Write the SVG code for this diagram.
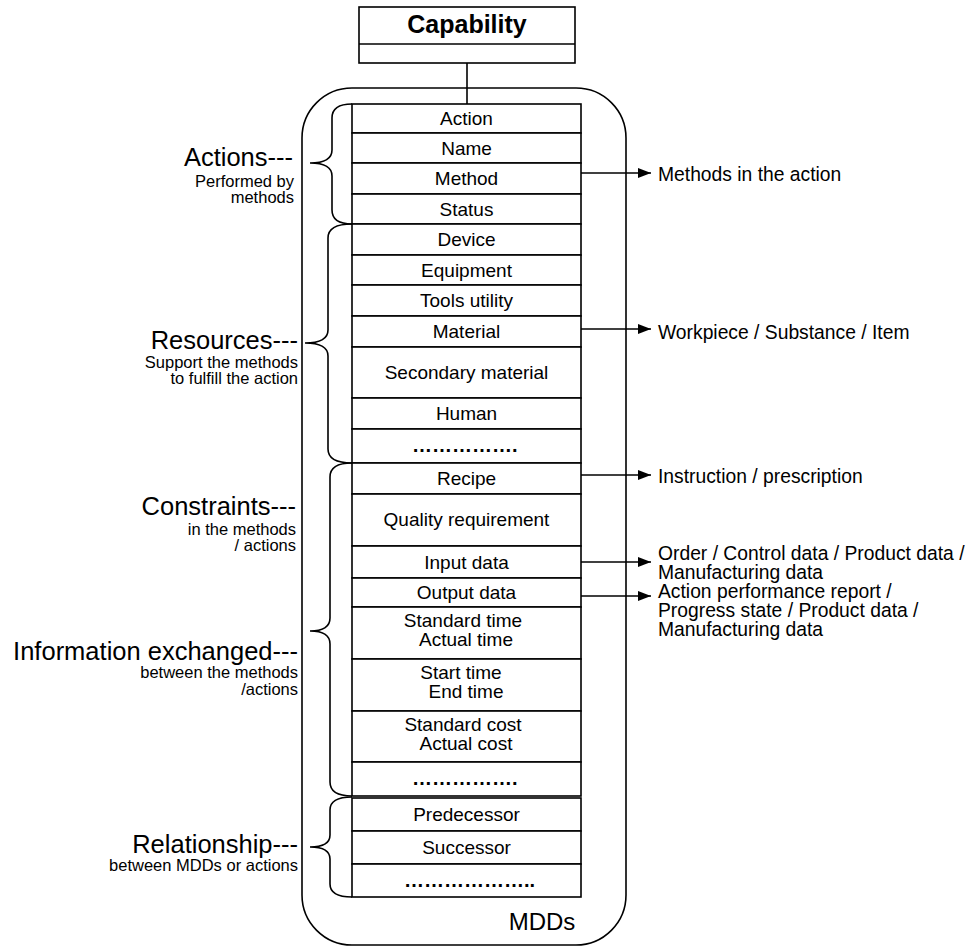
<svg xmlns="http://www.w3.org/2000/svg" width="972" height="947" viewBox="0 0 972 947">
<defs>
<style>
.b{fill:#fff;stroke:#000;stroke-width:1.6}
.ln{fill:none;stroke:#000;stroke-width:1.6}
.t{font-family:"Liberation Sans",Arial,sans-serif;font-size:19px;fill:#000;text-anchor:middle}
.r{font-family:"Liberation Sans",Arial,sans-serif;font-size:19.3px;fill:#000}
.big{font-family:"Liberation Sans",Arial,sans-serif;font-size:25.5px;fill:#000;text-anchor:end}
.sm{font-family:"Liberation Sans",Arial,sans-serif;font-size:16.5px;fill:#000;text-anchor:end}
.dots{font-family:"Liberation Sans",Arial,sans-serif;font-size:20px;font-weight:bold;fill:#000;text-anchor:start}
</style>
<marker id="ah" markerUnits="userSpaceOnUse" markerWidth="14" markerHeight="12" refX="13" refY="6" orient="auto">
<path d="M0,1 L13,6 L0,11 z" fill="#000"/>
</marker>
</defs>
<rect width="972" height="947" fill="#fff"/>

<g id="capability">
<rect class="b" x="359" y="7" width="216" height="56"/>
<line class="ln" x1="359" y1="44" x2="575" y2="44"/>
<text x="467" y="33" font-family="'Liberation Sans',Arial,sans-serif" font-size="25" font-weight="bold" text-anchor="middle">Capability</text>
</g>

<g id="mdds">
<rect class="ln" x="302" y="88" width="324" height="857" rx="50" ry="50"/>
<text x="542" y="930" font-family="'Liberation Sans',Arial,sans-serif" font-size="24" text-anchor="middle">MDDs</text>
</g>

<g id="rows">
<g id="r-action"><rect class="b" x="352" y="104" width="229" height="29"/><text class="t" x="466.5" y="125">Action</text></g>
<g id="r-name"><rect class="b" x="352" y="133" width="229" height="30"/><text class="t" x="466.5" y="155">Name</text></g>
<g id="r-method"><rect class="b" x="352" y="163" width="229" height="31"/><text class="t" x="466.5" y="185">Method</text></g>
<g id="r-status"><rect class="b" x="352" y="194" width="229" height="30"/><text class="t" x="466.5" y="216">Status</text></g>
<g id="r-device"><rect class="b" x="352" y="224" width="229" height="31"/><text class="t" x="466.5" y="246">Device</text></g>
<g id="r-equipment"><rect class="b" x="352" y="255" width="229" height="30"/><text class="t" x="466.5" y="277">Equipment</text></g>
<g id="r-tools"><rect class="b" x="352" y="285" width="229" height="31"/><text class="t" x="466.5" y="307">Tools utility</text></g>
<g id="r-material"><rect class="b" x="352" y="316" width="229" height="31"/><text class="t" x="466.5" y="338">Material</text></g>
<g id="r-secondary"><rect class="b" x="352" y="347" width="229" height="51"/><text class="t" x="466.5" y="379">Secondary material</text></g>
<g id="r-human"><rect class="b" x="352" y="398" width="229" height="31"/><text class="t" x="466.5" y="420">Human</text></g>
<g id="r-dots1"><rect class="b" x="352" y="429" width="229" height="34"/><text class="dots" x="412" y="452">…………….</text></g>
<g id="r-recipe"><rect class="b" x="352" y="463" width="229" height="31"/><text class="t" x="466.5" y="485">Recipe</text></g>
<g id="r-quality"><rect class="b" x="352" y="494" width="229" height="52"/><text class="t" x="466.5" y="526">Quality requirement</text></g>
<g id="r-input"><rect class="b" x="352" y="546" width="229" height="32"/><text class="t" x="466.5" y="569">Input data</text></g>
<g id="r-output"><rect class="b" x="352" y="578" width="229" height="29"/><text class="t" x="466.5" y="599">Output data</text></g>
<g id="r-stdtime"><rect class="b" x="352" y="607" width="229" height="52"/><text class="t" x="463" y="627">Standard time</text><text class="t" x="466" y="646">Actual time</text></g>
<g id="r-start"><rect class="b" x="352" y="659" width="229" height="52"/><text class="t" x="461" y="679">Start time</text><text class="t" x="466" y="698">End time</text></g>
<g id="r-stdcost"><rect class="b" x="352" y="711" width="229" height="51"/><text class="t" x="463" y="731">Standard cost</text><text class="t" x="466" y="750">Actual cost</text></g>
<g id="r-dots2"><rect class="b" x="352" y="762" width="229" height="34"/><text class="dots" x="412" y="785">…………….</text></g>
<g id="r-pred"><rect class="b" x="352" y="798" width="229" height="33"/><text class="t" x="466.5" y="821">Predecessor</text></g>
<g id="r-succ"><rect class="b" x="352" y="831" width="229" height="33"/><text class="t" x="466.5" y="854">Successor</text></g>
<g id="r-dots3"><rect class="b" x="352" y="864" width="229" height="33"/><text class="dots" x="404" y="887">………………..</text></g>
</g>

<g id="braces">
<path class="ln" d="M352,104 Q332,104 332,118 L332,150 Q332,163 310,163 Q332,163 332,176 L332,210 Q332,224 352,224"/>
<path class="ln" d="M352,224 Q328,224 328,238 L328,330 Q328,343 305,343 Q328,343 328,356 L328,449 Q328,463 352,463"/>
<path class="ln" d="M352,463 Q330,463 330,477 L330,618 Q330,631 310,631 Q330,631 330,644 L330,782 Q330,796 352,796"/>
<path class="ln" d="M352,797 Q330,797 330,810 L330,835 Q330,847 310,847 Q330,847 330,859 L330,884 Q330,897 352,897"/>
</g>

<g id="labels">
<g id="l-actions"><text class="big" x="293" y="166">Actions---</text><text class="sm" x="294" y="187">Performed by</text><text class="sm" x="294" y="203">methods</text></g>
<g id="l-resources"><text class="big" x="298" y="349">Resources---</text><text class="sm" x="298" y="368">Support the methods</text><text class="sm" x="298" y="384">to fulfill the action</text></g>
<g id="l-constraints"><text class="big" x="296" y="515">Constraints---</text><text class="sm" x="296" y="535">in the methods</text><text class="sm" x="296" y="551">/ actions</text></g>
<g id="l-info"><text class="big" x="298" y="660">Information exchanged---</text><text class="sm" x="298" y="678">between the methods</text><text class="sm" x="298" y="695">/actions</text></g>
<g id="l-relationship"><text class="big" x="298" y="853">Relationship---</text><text class="sm" x="298" y="871">between MDDs or actions</text></g>
</g>

<g id="connectors">
<line class="ln" x1="467" y1="63" x2="467" y2="104"/>
<line class="ln" x1="581" y1="173" x2="651" y2="173" marker-end="url(#ah)"/>
<line class="ln" x1="581" y1="329" x2="651" y2="329" marker-end="url(#ah)"/>
<line class="ln" x1="581" y1="475" x2="651" y2="475" marker-end="url(#ah)"/>
<line class="ln" x1="581" y1="562" x2="651" y2="562" marker-end="url(#ah)"/>
<line class="ln" x1="581" y1="596" x2="651" y2="596" marker-end="url(#ah)"/>
</g>

<g id="right-notes">
<text class="r" x="658" y="560">Order / Control data / Product data /</text>
<text class="r" x="658" y="579">Manufacturing data</text>
<text class="r" x="658" y="181">Methods in the action</text>
<text class="r" x="658" y="339">Workpiece / Substance / Item</text>
<text class="r" x="658" y="483">Instruction / prescription</text>
<text class="r" x="658" y="598">Action performance report /</text>
<text class="r" x="658" y="617">Progress state / Product data /</text>
<text class="r" x="658" y="636">Manufacturing data</text>
</g>
</svg>
